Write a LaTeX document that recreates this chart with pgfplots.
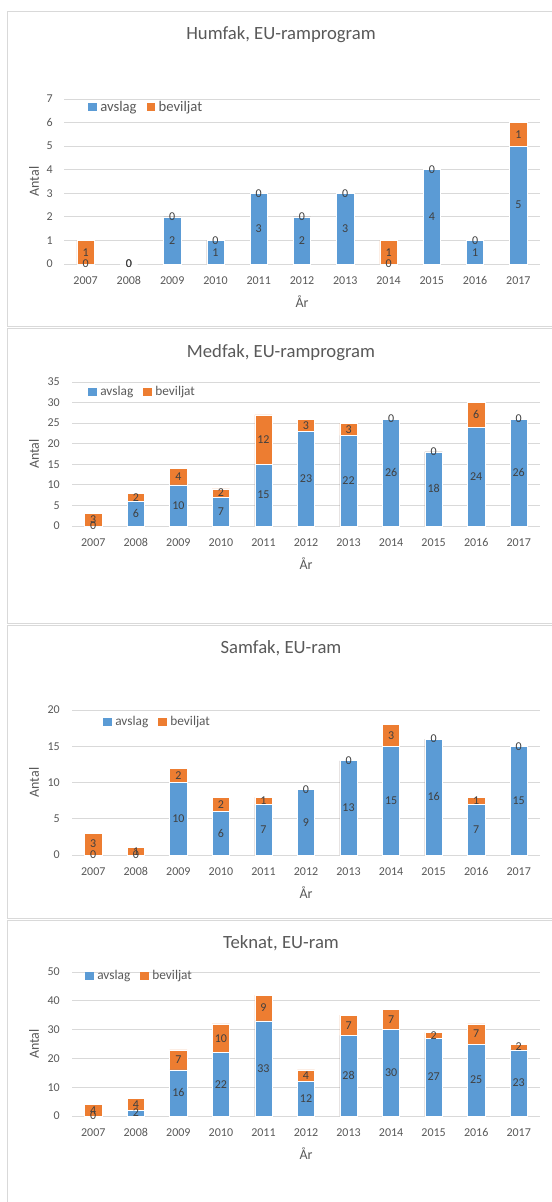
\documentclass[border=0pt]{standalone}
\usepackage{fontspec}
\setmainfont{Carlito}[Numbers=Lining]
\usepackage{pgfplots}
\usepackage{pgfplotstable}
\pgfplotsset{compat=1.18}
\definecolor{cblue}{HTML}{5B9BD5}
\definecolor{corange}{HTML}{ED7D31}
\definecolor{tgray}{HTML}{595959}
\definecolor{lgray}{HTML}{404040}
\definecolor{ggray}{HTML}{D9D9D9}

\pgfplotstableread{
x a b
0 0 1
1 0 0
2 2 0
3 1 0
4 3 0
5 2 0
6 3 0
7 0 1
8 4 0
9 1 0
10 5 1
}\humfak
\pgfplotstableread{
x a b
0 0 3
1 6 2
2 10 4
3 7 2
4 15 12
5 23 3
6 22 3
7 26 0
8 18 0
9 24 6
10 26 0
}\medfak
\pgfplotstableread{
x a b
0 0 3
1 0 1
2 10 2
3 6 2
4 7 1
5 9 0
6 13 0
7 15 3
8 16 0
9 7 1
10 15 0
}\samfak
\pgfplotstableread{
x a b
0 0 4
1 2 4
2 16 7
3 22 10
4 33 9
5 12 4
6 28 7
7 30 7
8 27 2
9 25 7
10 23 2
}\teknat

\pgfkeys{/pgf/number format/assume math mode=true}
\pgfplotsset{
  panel/.style={
    scale only axis, anchor=south west, clip=false,
    xmin=-0.5, xmax=10.5, ymin=0,
    xtick={0,...,10},
    xticklabels={2007,2008,2009,2010,2011,2012,2013,2014,2015,2016,2017},
    axis line style={draw=none}, major tick length=0pt,
    ymajorgrids, grid style={ggray, line width=0.75pt},
    tick label style={font=\fontsize{9}{10}\selectfont, text=tgray},
    xticklabel style={anchor=base, inner sep=0pt, yshift=-15.6pt},
    xlabel={År}, ylabel={Antal},
    every axis x label/.style={at={([yshift=-28.5pt]axis description cs:0.5,0)}, anchor=center, font=\fontsize{10.5}{12}\selectfont, text=tgray},
    every axis title/.style={anchor=center, font=\fontsize{14}{16}\selectfont, text=tgray},
    legend columns=-1,
    legend image code/.code={\fill[##1,draw=none] (0pt,-3.2pt) rectangle (6.5pt,3.2pt);},
    legend style={draw=none, fill=none, inner sep=0pt, anchor=west,
      nodes={inner sep=0pt, text=tgray},
      /tikz/every even column/.append style={column sep=7.5pt},
      /tikz/every odd column/.append style={column sep=2.5pt}},
  },
  bar/.style={ybar, bar width=13pt, bar shift=0pt, fill=#1, draw=white, line width=0.4pt, forget plot},
  lab/.style={draw=none, mark=none, forget plot,
    point meta=explicit, nodes near coords={\pgfmathprintnumber{\pgfplotspointmeta}},
    every node near coord/.style={anchor=base, inner sep=0pt, yshift=-2.85pt,
      font=\fontsize{9}{10}\selectfont, text=lgray}},
}

\newcommand{\panelplots}[1]{%
\addplot[bar=corange] table[x=x, y expr=\thisrow{a}+\thisrow{b}]{#1};
\addplot[bar=cblue] table[x=x, y=a]{#1};
\addplot[lab] table[x=x, y expr=\thisrow{a}/2, meta=a]{#1};
\addplot[lab] table[x=x, y expr=\thisrow{a}+\thisrow{b}/2, meta=b]{#1};
\addlegendimage{fill=cblue}\addlegendentry{avslag}
\addlegendimage{fill=corange}\addlegendentry{beviljat}
}

\begin{document}
\begin{tikzpicture}
\useasboundingbox (0pt,0pt) rectangle (413.25pt,-901.5pt);
\fill[white] (0pt,0pt) rectangle (413.25pt,-901.5pt);
\draw[ggray, line width=0.75pt] (5.25pt,-9pt) rectangle (420pt,-244.5pt);
\draw[ggray, line width=0.75pt] (5.25pt,-246pt) rectangle (420pt,-467.25pt);
\draw[ggray, line width=0.75pt] (5.25pt,-468.75pt) rectangle (420pt,-688.5pt);
\draw[ggray, line width=0.75pt] (5.25pt,-690pt) rectangle (420pt,-910pt);

% Panel 1
\begin{axis}[panel, at={(48pt,-198pt)}, width=357pt, height=123.75pt,
  ymax=7, ytick={0,1,...,7},
  yticklabel style={anchor=base east, inner sep=0pt, xshift=-8.25pt, yshift=-2.85pt},
  every axis y label/.style={at={([xshift=-22.5pt]axis description cs:0,0.5)}, rotate=90, anchor=center, font=\fontsize{10.5}{12}\selectfont, text=tgray},
  title={Humfak, EU-ramprogram},
  title style={at={([xshift=-15.75pt,yshift=48pt]axis description cs:0.5,1)}},
  legend style={at={([xshift=18pt,yshift=-6pt]axis description cs:0,1)}, font=\fontsize{11}{12}\selectfont},
]
\panelplots{\humfak}
\end{axis}

% Panel 2
\begin{axis}[panel, at={(54pt,-394.5pt)}, width=351pt, height=108pt,
  ymax=35, ytick={0,5,...,35},
  yticklabel style={anchor=base east, inner sep=0pt, xshift=-9pt, yshift=-2.85pt},
  every axis y label/.style={at={([xshift=-28.5pt]axis description cs:0,0.5)}, rotate=90, anchor=center, font=\fontsize{10.5}{12}\selectfont, text=tgray},
  title={Medfak, EU-ramprogram},
  title style={at={([xshift=-18.75pt,yshift=21.75pt]axis description cs:0.5,1)}},
  legend style={at={([xshift=12pt,yshift=-7.5pt]axis description cs:0,1)}, font=\fontsize{10}{12}\selectfont},
]
\panelplots{\medfak}
\end{axis}

% Panel 3
\begin{axis}[panel, at={(54pt,-641.25pt)}, width=351pt, height=108.75pt,
  ymax=20, ytick={0,5,...,20},
  yticklabel style={anchor=base east, inner sep=0pt, xshift=-9pt, yshift=-2.85pt},
  every axis y label/.style={at={([xshift=-28.5pt]axis description cs:0,0.5)}, rotate=90, anchor=center, font=\fontsize{10.5}{12}\selectfont, text=tgray},
  title={Samfak, EU-ram},
  title style={at={([xshift=-18.75pt,yshift=46.5pt]axis description cs:0.5,1)}},
  legend style={at={([xshift=23.25pt,yshift=-9pt]axis description cs:0,1)}, font=\fontsize{10}{12}\selectfont},
]
\panelplots{\samfak}
\end{axis}

% Panel 4
\begin{axis}[panel, at={(54pt,-837pt)}, width=351pt, height=108pt,
  ymax=50, ytick={0,10,...,50},
  yticklabel style={anchor=base east, inner sep=0pt, xshift=-9pt, yshift=-2.85pt},
  every axis y label/.style={at={([xshift=-28.5pt]axis description cs:0,0.5)}, rotate=90, anchor=center, font=\fontsize{10.5}{12}\selectfont, text=tgray},
  title={Teknat, EU-ram},
  title style={at={([xshift=-18.75pt,yshift=21.75pt]axis description cs:0.5,1)}},
  legend style={at={([xshift=9.75pt,yshift=-3pt]axis description cs:0,1)}, font=\fontsize{10}{12}\selectfont},
]
\panelplots{\teknat}
\end{axis}
\end{tikzpicture}
\end{document}
